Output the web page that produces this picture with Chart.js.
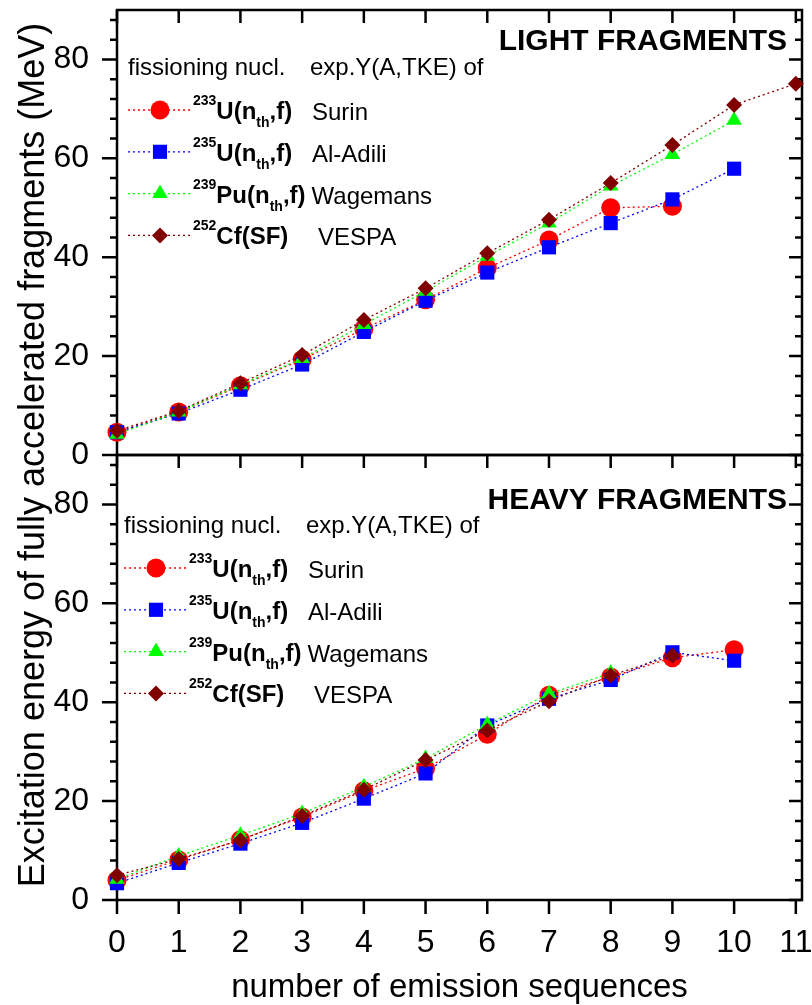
<!DOCTYPE html>
<html>
<head>
<meta charset="utf-8">
<script src="https://cdn.jsdelivr.net/npm/chart.js@4.4.0/dist/chart.umd.min.js"></script>
<style>
  html, body { margin: 0; padding: 0; background: #fff; }
  canvas { display: block; }
</style>
</head>
<body>
<canvas id="chart" width="812" height="1005"></canvas>
<script>
// number of emission sequences
const seqs = [0, 1, 2, 3, 4, 5, 6, 7, 8, 9, 10, 11];
const xTicks = [0, 1, 2, 3, 4, 5, 6, 7, 8, 9, 10, 11];
const yTicks = [0, 20, 40, 60, 80];

// light fragments (MeV)
const lightSurin    = [4.6, 8.7, 14.0, 19.3, 25.5, 31.4, 37.8, 43.5, 50.0, 50.3];
const lightAlAdili  = [4.6, 8.4, 13.2, 18.3, 24.9, 31.2, 36.9, 42.0, 46.9, 51.7, 57.9];
const lightWagemans = [4.2, 8.7, 14.2, 19.5, 26.4, 33.1, 40.2, 46.9, 54.4, 60.8, 67.7];
const lightVespa    = [4.9, 8.9, 14.5, 20.2, 27.3, 33.7, 40.8, 47.6, 55.0, 62.7, 70.8, 75.1];

// heavy fragments (MeV)
const heavySurin    = [4.0, 8.1, 12.2, 16.8, 22.1, 26.6, 33.5, 41.4, 45.1, 49.0, 50.6];
const heavyAlAdili  = [3.4, 7.5, 11.4, 15.6, 20.5, 25.6, 35.3, 40.7, 44.5, 50.1, 48.4];
const heavyWagemans = [4.2, 8.9, 13.1, 17.5, 22.9, 28.6, 35.5, 41.7, 45.9];
const heavyVespa    = [5.0, 8.3, 12.1, 17.0, 22.3, 28.3, 34.3, 40.2, 45.4, 49.4];

const seriesNames = ["Surin", "Al-Adili", "Wagemans", "VESPA"];
const nuclideMass = ["233", "235", "239", "252"];
const nuclideText = ["U(n_{th},f)", "U(n_{th},f)", "Pu(n_{th},f)", "Cf(SF)"];
const panelTitles = ["LIGHT FRAGMENTS", "HEAVY FRAGMENTS"];

const colors = ["#ff0000", "#0000ff", "#00ff00", "#800000"];
const styles = ["circle", "rect", "triangle", "rectRot"];
const radii = [9.5, 10, 9, 8];
const FONT = "'Liberation Sans', Arial, sans-serif";
const NARROW = "'Liberation Sans Narrow', 'Arial Narrow', 'Liberation Sans', Arial, sans-serif";

function makeSets(series, axis) {
    return series.map((vals, i) => ({
        label: seriesNames[i],
        data: vals.map((v, k) => ({x: seqs[k], y: v})),
        yAxisID: axis,
        borderColor: colors[i],
        backgroundColor: colors[i],
        borderWidth: 1.3,
        borderDash: [2, 3],
        pointStyle: styles[i],
        pointRadius: radii[i],
        pointHoverRadius: radii[i],
        pointBorderWidth: 0,
        order: 4 - i,
        clip: false,
        tension: 0
    }));
}

function drawMarker(ctx, i, x, y) {
    ctx.save();
    ctx.fillStyle = colors[i];
    Chart.helpers.drawPoint(ctx, {pointStyle: styles[i], radius: radii[i], borderWidth: 0, rotation: 0}, x, y);
    ctx.restore();
}

// frame and tick marks (Origin style)
const framePlugin = {
    id: "frame",
    beforeDatasetsDraw(chart) {
        const ctx = chart.ctx;
        const xs = chart.scales.x;
        const panels = [chart.scales.yLight, chart.scales.yHeavy];
        const left = chart.chartArea.left, right = chart.chartArea.right;
        ctx.save();
        ctx.strokeStyle = "#000";
        ctx.lineWidth = 2.5;
        ctx.lineCap = "butt";
        panels.forEach(ys => {
            ctx.strokeRect(left, ys.top, right - left, ys.bottom - ys.top);
            ctx.beginPath();
            for (let v = 0; v <= ys.max; v += 4) {
                const py = ys.getPixelForValue(v);
                const major = yTicks.includes(v);
                ctx.moveTo(left - (major ? 15 : 7), py);
                ctx.lineTo(left, py);
                ctx.moveTo(right, py);
                ctx.lineTo(right - (major ? 13 : 7), py);
            }
            ctx.stroke();
        });
        ctx.beginPath();
        xTicks.forEach(v => {
            const px = xs.getPixelForValue(v);
            ctx.moveTo(px, panels[0].top);
            ctx.lineTo(px, panels[0].top + 13);
            ctx.moveTo(px, panels[0].bottom);
            ctx.lineTo(px, panels[0].bottom + 13);
            ctx.moveTo(px, panels[1].bottom);
            ctx.lineTo(px, panels[1].bottom + 14);
        });
        ctx.stroke();
        ctx.restore();
    },
    afterDraw(chart) {
        const ctx = chart.ctx;
        const panels = [chart.scales.yLight, chart.scales.yHeavy];
        const left = chart.chartArea.left, right = chart.chartArea.right;
        ctx.save();
        ctx.fillStyle = "#000";

        // axis titles
        ctx.font = "36px " + FONT;
        ctx.textAlign = "center";
        ctx.textBaseline = "alphabetic";
        ctx.save();
        ctx.translate(44, (panels[0].top + panels[1].bottom) / 2);
        ctx.rotate(-Math.PI / 2);
        ctx.fillText("Excitation energy of fully accelerated fragments (MeV)", 0, 0);
        ctx.restore();
        ctx.font = "33px " + FONT;
        ctx.fillText("number of emission sequences", (left + right) / 2, 997);

        // panel titles and legends
        const titleDy = [39.5, 53.5];
        const legendPos = [{dx: 11, dy: 100}, {dx: 7, dy: 113}];
        const nameDx = [0, 0, -5, 6];
        panels.forEach((ys, p) => {
            ctx.textAlign = "right";
            ctx.font = "bold 30px " + FONT;
            ctx.fillText(panelTitles[p], right - 15, ys.top + titleDy[p]);

            const x0 = left + legendPos[p].dx;
            const y0 = ys.top + legendPos[p].dy;
            ctx.textAlign = "left";
            ctx.font = "24px " + FONT;
            ctx.fillText("fissioning nucl.", x0, y0 - 35);
            ctx.fillText("exp.Y(A,TKE) of", x0 + 182, y0 - 35);

            for (let i = 0; i < 4; i++) {
                const ry = y0 + i * 41.8;
                ctx.save();
                ctx.strokeStyle = colors[i];
                ctx.lineWidth = 1.3;
                ctx.setLineDash([2, 3]);
                ctx.beginPath();
                ctx.moveTo(x0, ry);
                ctx.lineTo(x0 + 62, ry);
                ctx.stroke();
                ctx.restore();
                drawMarker(ctx, i, x0 + 32, ry);

                let tx = x0 + 65;
                ctx.font = "bold 14px " + FONT;
                ctx.fillText(nuclideMass[i], tx, ry - 5);
                tx += ctx.measureText(nuclideMass[i]).width;
                nuclideText[i].split(/(_\{[^}]*\})/).forEach(part => {
                    if (!part) return;
                    if (part.startsWith("_{")) {
                        const s = part.slice(2, -1);
                        ctx.font = "bold 14px " + FONT;
                        ctx.fillText(s, tx, ry + 17);
                        tx += ctx.measureText(s).width;
                    } else {
                        ctx.font = "bold 24px " + FONT;
                        ctx.fillText(part, tx, ry + 9);
                        tx += ctx.measureText(part).width;
                    }
                });
                ctx.font = "24px " + FONT;
                ctx.fillText(seriesNames[i], Math.max(x0 + 184 + nameDx[i], tx + 6), ry + 10);
            }
        });
        ctx.restore();
    }
};

const tickFont = {family: NARROW, size: 32};

function yScale() {
    return {
        type: "linear",
        position: "left",
        stack: "panels",
        stackWeight: 1,
        min: 0,
        max: 90,
        afterBuildTicks: s => { s.ticks = yTicks.map(v => ({value: v})); },
        afterFit: s => { s.width = 117; s.paddingTop = 0; s.paddingBottom = 0; },
        grid: {display: false},
        border: {display: false},
        ticks: {font: tickFont, color: "#000", padding: 20}
    };
}

new Chart(document.getElementById("chart"), {
    type: "line",
    data: {
        datasets: [
            ...makeSets([lightSurin, lightAlAdili, lightWagemans, lightVespa], "yLight"),
            ...makeSets([heavySurin, heavyAlAdili, heavyWagemans, heavyVespa], "yHeavy")
        ]
    },
    options: {
        responsive: false,
        devicePixelRatio: 1,
        animation: false,
        layout: {padding: {top: 8, right: 6, left: 0, bottom: 0}},
        plugins: {legend: {display: false}, tooltip: {enabled: false}},
        scales: {
            x: {
                type: "linear",
                min: 0,
                max: 11.1,
                afterBuildTicks: s => { s.ticks = xTicks.map(v => ({value: v})); },
                afterFit: s => { s.height = 105; s.paddingLeft = 0; s.paddingRight = 0; },
                grid: {display: false},
                border: {display: false},
                ticks: {font: tickFont, color: "#000", padding: 16, autoSkip: false, maxRotation: 0}
            },
            // stacked panels: the scale declared last is placed on top
            yHeavy: yScale(),
            yLight: yScale()
        }
    },
    plugins: [framePlugin]
});
</script>
</body>
</html>
